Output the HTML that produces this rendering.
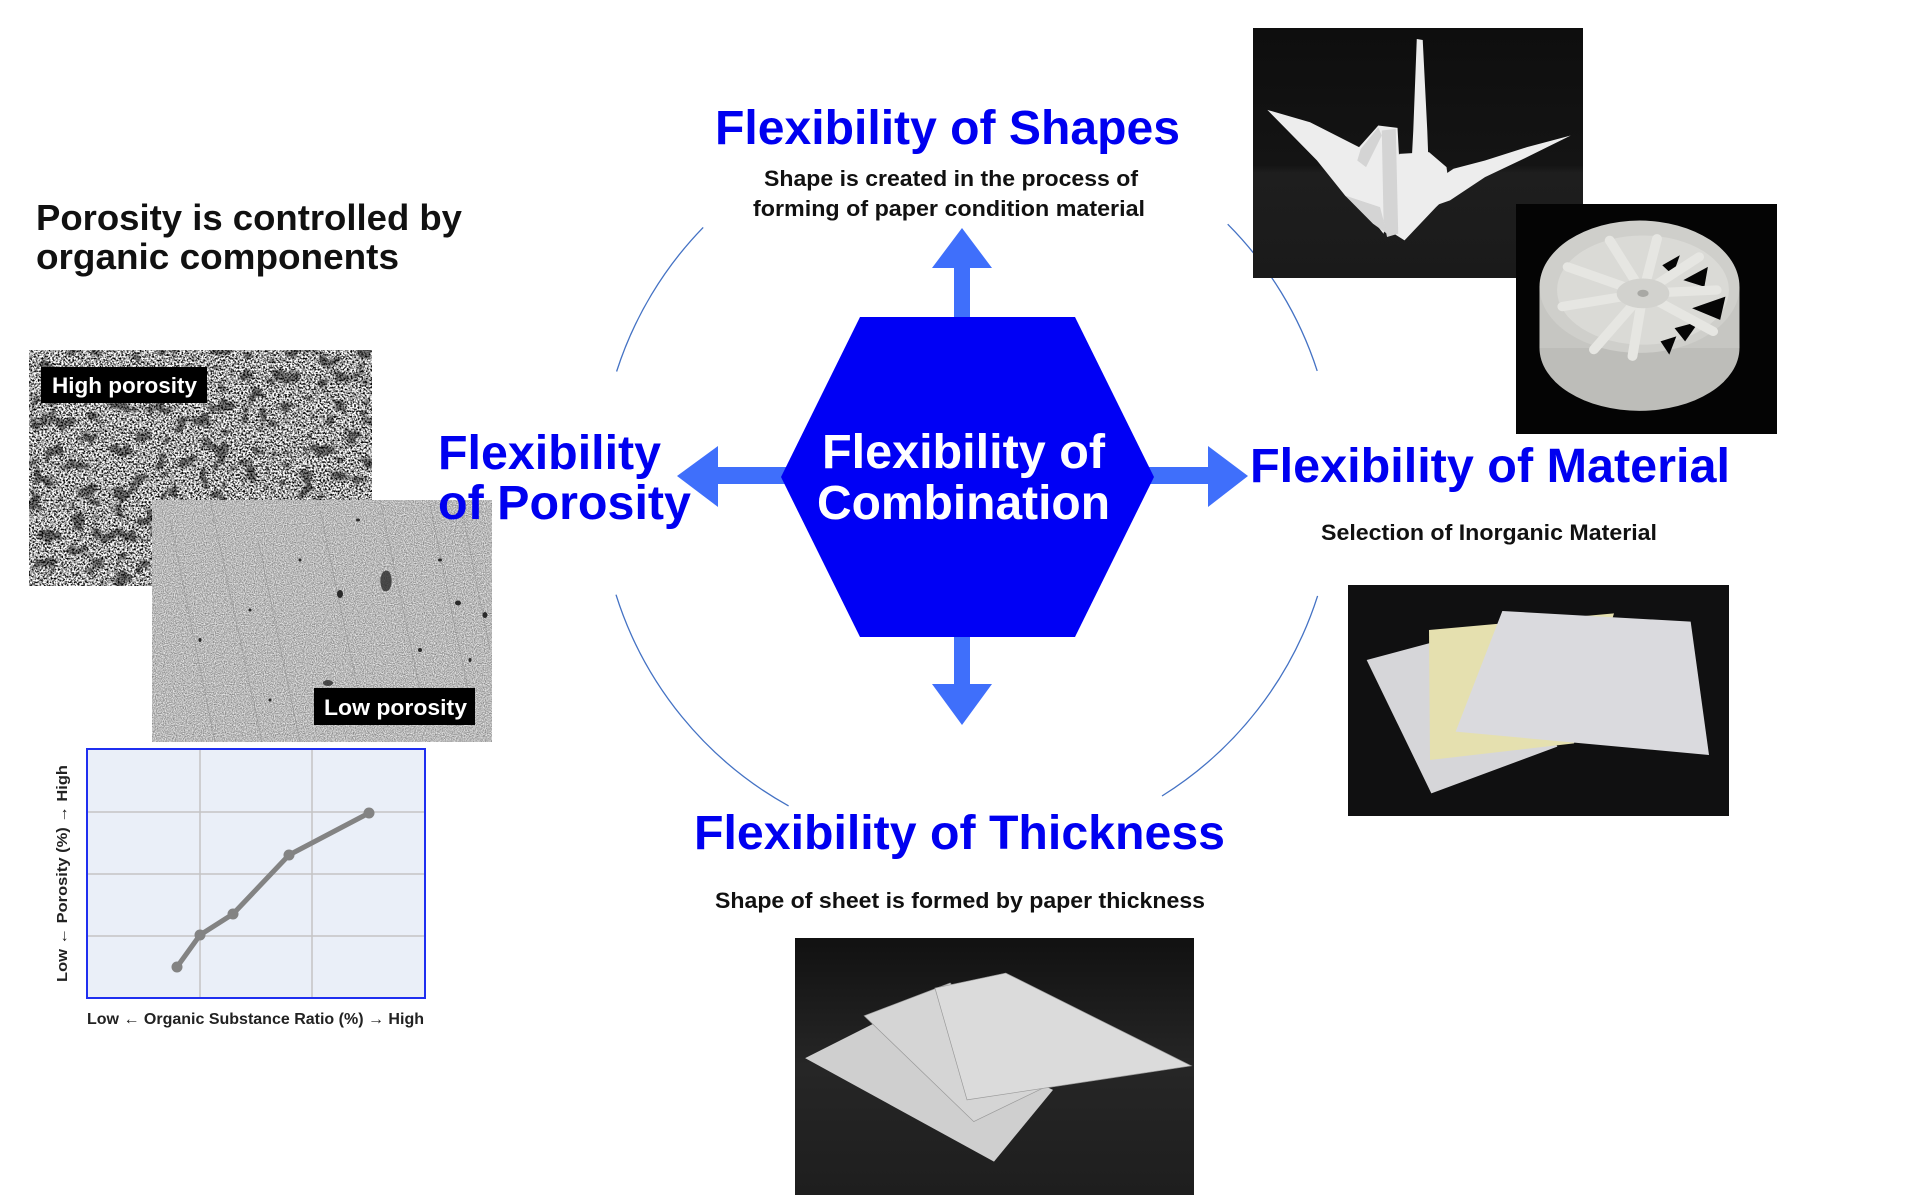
<!DOCTYPE html>
<html><head><meta charset="utf-8"><style>
html,body{margin:0;padding:0;background:#fff;}
body{width:1920px;height:1195px;overflow:hidden;position:relative;}
svg{position:absolute;left:0;top:0;}
text{font-family:"Liberation Sans",Arial,sans-serif;}
</style></head><body>
<svg width="1920" height="1195" viewBox="0 0 1920 1195" xmlns="http://www.w3.org/2000/svg">
<defs>
  <filter id="hp" x="0" y="0" width="100%" height="100%" color-interpolation-filters="sRGB">
    <feTurbulence type="fractalNoise" baseFrequency="0.55" numOctaves="2" seed="7" result="n"/>
    <feColorMatrix in="n" type="matrix" values="1 0 0 0 0  1 0 0 0 0  1 0 0 0 0  0 0 0 0 1"/>
    <feComponentTransfer>
      <feFuncR type="linear" slope="3.2" intercept="-0.95"/>
      <feFuncG type="linear" slope="3.2" intercept="-0.95"/>
      <feFuncB type="linear" slope="3.2" intercept="-0.95"/>
    </feComponentTransfer>
  </filter>
  <filter id="hp2" x="0" y="0" width="100%" height="100%" color-interpolation-filters="sRGB">
    <feTurbulence type="fractalNoise" baseFrequency="0.07" numOctaves="2" seed="11" result="n"/>
    <feColorMatrix in="n" type="matrix" values="0 0 0 0 0  0 0 0 0 0  0 0 0 0 0  -7 0 0 0 3.2"/>
  </filter>
  <filter id="lp" x="0" y="0" width="100%" height="100%" color-interpolation-filters="sRGB">
    <feTurbulence type="fractalNoise" baseFrequency="0.9" numOctaves="2" seed="5" result="n"/>
    <feColorMatrix in="n" type="matrix" values="1 0 0 0 0  1 0 0 0 0  1 0 0 0 0  0 0 0 0 1"/>
    <feComponentTransfer>
      <feFuncR type="linear" slope="0.9" intercept="0.28"/>
      <feFuncG type="linear" slope="0.9" intercept="0.28"/>
      <feFuncB type="linear" slope="0.9" intercept="0.28"/>
    </feComponentTransfer>
  </filter>
  <linearGradient id="craneBg" x1="0" y1="0" x2="0" y2="1">
    <stop offset="0" stop-color="#0e0e0e"/>
    <stop offset="0.55" stop-color="#141414"/>
    <stop offset="0.58" stop-color="#1e1e1e"/>
    <stop offset="1" stop-color="#1a1a1a"/>
  </linearGradient>
  <linearGradient id="thBg" x1="0" y1="0" x2="0" y2="1">
    <stop offset="0" stop-color="#111"/>
    <stop offset="0.5" stop-color="#262626"/>
    <stop offset="1" stop-color="#1e1e1e"/>
  </linearGradient>
</defs>

<!-- circle arcs -->
<g fill="none" stroke="#4472c4" stroke-width="1.3">
  <path d="M703.2,227.4 A368,368 0 0 0 616.6,371.5"/>
  <path d="M616,594.7 A368,368 0 0 0 788.6,805.9"/>
  <path d="M1227.7,224.2 A368,368 0 0 1 1317.2,370.9"/>
  <path d="M1317.6,595.9 A368,368 0 0 1 1162,796"/>
</g>

<!-- Top-left heading -->
<text x="36" y="230" font-size="36" font-weight="bold" fill="#111" textLength="426" lengthAdjust="spacingAndGlyphs">Porosity is controlled by</text>
<text x="36" y="269" font-size="36" font-weight="bold" fill="#111" textLength="363" lengthAdjust="spacingAndGlyphs">organic components</text>

<!-- High porosity image -->
<rect x="29" y="350" width="343" height="236" fill="#999"/>
<rect x="29" y="350" width="343" height="236" filter="url(#hp)"/>
<rect x="29" y="350" width="343" height="236" filter="url(#hp2)" opacity="0.5"/>
<rect x="41" y="367" width="166" height="36" fill="#000"/>
<text x="52" y="393" font-size="22" font-weight="bold" fill="#fff" textLength="145" lengthAdjust="spacingAndGlyphs">High porosity</text>

<!-- Low porosity image -->
<rect x="152" y="500" width="340" height="242" fill="#b4b4b4"/>
<rect x="152" y="500" width="340" height="242" filter="url(#lp)" opacity="0.9"/>
<g stroke="#8c8c8c" stroke-width="0.8" opacity="0.6">
  <line x1="170" y1="520" x2="215" y2="742"/>
  <line x1="210" y1="500" x2="262" y2="742"/>
  <line x1="258" y1="540" x2="300" y2="742"/>
  <line x1="320" y1="510" x2="360" y2="700"/>
  <line x1="380" y1="500" x2="420" y2="690"/>
  <line x1="430" y1="505" x2="470" y2="700"/>
  <line x1="460" y1="500" x2="490" y2="650"/>
</g>
<g fill="#2a2a2a">
  <path d="M383,572 q6,-4 8,4 q2,8 -2,14 q-6,4 -8,-4 q-2,-8 2,-14z" opacity="0.8"/>
  <ellipse cx="340" cy="594" rx="3" ry="4"/>
  <ellipse cx="458" cy="603" rx="3" ry="2.5"/>
  <ellipse cx="485" cy="615" rx="2.5" ry="3"/>
  <ellipse cx="328" cy="683" rx="5" ry="3" opacity="0.8"/>
  <ellipse cx="250" cy="610" rx="1.5" ry="1.5"/>
  <ellipse cx="200" cy="640" rx="1.5" ry="2"/>
  <ellipse cx="420" cy="650" rx="2" ry="2"/>
  <ellipse cx="358" cy="520" rx="2" ry="1.5"/>
  <ellipse cx="300" cy="560" rx="1.5" ry="1.5"/>
  <ellipse cx="270" cy="700" rx="1.5" ry="1.5"/>
  <ellipse cx="440" cy="560" rx="2" ry="1.5"/>
  <ellipse cx="470" cy="660" rx="1.5" ry="2"/>
</g>
<rect x="314" y="688" width="161" height="37" fill="#000"/>
<text x="324" y="715" font-size="22" font-weight="bold" fill="#fff" textLength="143" lengthAdjust="spacingAndGlyphs">Low porosity</text>

<!-- Chart -->
<rect x="87" y="749" width="338" height="249" fill="#eaeff8"/>
<g stroke="#c4c4c4" stroke-width="1.5">
  <line x1="200" y1="749" x2="200" y2="998"/>
  <line x1="312" y1="749" x2="312" y2="998"/>
  <line x1="87" y1="812" x2="425" y2="812"/>
  <line x1="87" y1="874" x2="425" y2="874"/>
  <line x1="87" y1="936" x2="425" y2="936"/>
</g>
<rect x="87" y="749" width="338" height="249" fill="none" stroke="#1f2ff0" stroke-width="2"/>
<polyline points="177,967 200,935 233,914 289,855 369,813" fill="none" stroke="#838383" stroke-width="5" stroke-linejoin="round"/>
<g fill="#838383">
  <circle cx="177" cy="967" r="5.5"/><circle cx="200" cy="935" r="5.5"/><circle cx="233" cy="914" r="5.5"/><circle cx="289" cy="855" r="5.5"/><circle cx="369" cy="813" r="5.5"/>
</g>
<text transform="translate(67,982) rotate(-90)" font-size="15" font-weight="bold" fill="#222" textLength="217" lengthAdjust="spacingAndGlyphs">Low ← Porosity (%) → High</text>
<text x="87" y="1024" font-size="16" font-weight="bold" fill="#222" textLength="337" lengthAdjust="spacingAndGlyphs">Low ← Organic Substance Ratio (%) → High</text>

<!-- Arrows -->
<g fill="#3f6ffb">
  <rect x="954" y="266" width="16" height="54"/>
  <polygon points="932,268 992,268 962,228"/>
  <rect x="954" y="634" width="16" height="52"/>
  <polygon points="932,684 992,684 962,725"/>
  <rect x="716" y="467" width="70" height="17"/>
  <polygon points="718,446 718,507 677,476"/>
  <rect x="1148" y="467" width="62" height="17"/>
  <polygon points="1208,446 1208,507 1248,476"/>
</g>

<!-- Hexagon -->
<polygon points="860,317 1075,317 1154,477 1075,637 860,637 781,477" fill="#0000f5"/>
<text x="822" y="468" font-size="48" font-weight="bold" fill="#fff" textLength="283" lengthAdjust="spacingAndGlyphs">Flexibility of</text>
<text x="817" y="519" font-size="48" font-weight="bold" fill="#fff" textLength="293" lengthAdjust="spacingAndGlyphs">Combination</text>

<!-- Titles -->
<g font-size="48" font-weight="bold" fill="#0000f0">
  <text x="715" y="144" textLength="465" lengthAdjust="spacingAndGlyphs">Flexibility of Shapes</text>
  <text x="438" y="469" textLength="223" lengthAdjust="spacingAndGlyphs">Flexibility</text>
  <text x="438" y="519" textLength="253" lengthAdjust="spacingAndGlyphs">of Porosity</text>
  <text x="1250" y="482" textLength="480" lengthAdjust="spacingAndGlyphs">Flexibility of Material</text>
  <text x="694" y="849" textLength="531" lengthAdjust="spacingAndGlyphs">Flexibility of Thickness</text>
</g>
<g font-size="22" font-weight="bold" fill="#111">
  <text x="764" y="186" textLength="374" lengthAdjust="spacingAndGlyphs">Shape is created in the process of</text>
  <text x="753" y="216" textLength="392" lengthAdjust="spacingAndGlyphs">forming of paper condition material</text>
  <text x="1321" y="540" textLength="336" lengthAdjust="spacingAndGlyphs">Selection of Inorganic Material</text>
  <text x="715" y="908" textLength="490" lengthAdjust="spacingAndGlyphs">Shape of sheet is formed by paper thickness</text>
</g>

<!-- Crane image -->
<svg x="1253" y="28" width="330" height="250" viewBox="37 22 943 751" preserveAspectRatio="none">
  <rect x="37" y="22" width="943" height="751" fill="url(#craneBg)"/>
  <g fill="#ededed">
    <polygon points="78,268 200,305 340,380 395,315 450,322 455,420 430,560 410,640 380,600 300,525 220,420"/>
    <polygon points="505,55 522,58 535,330 540,470 488,470 495,330"/>
    <polygon points="455,400 540,395 590,440 600,520 560,560 470,660 440,640 440,470"/>
    <polygon points="945,345 820,380 700,420 610,445 560,480 545,560 600,540 700,470 820,410"/>
  </g>
  <g fill="#d4d4d4">
    <polygon points="405,330 445,325 452,640 420,650 410,600"/>
    <polygon points="300,525 400,560 420,640 380,610"/>
    <polygon points="345,385 395,320 405,345 360,440 335,420"/>
  </g>
</svg>

<!-- Wheel image -->
<svg x="1516" y="204" width="261" height="230" viewBox="788 550 744 695" preserveAspectRatio="none">
  <rect x="788" y="550" width="744" height="695" fill="#040404"/>
  <ellipse cx="1140" cy="985" rx="285" ry="190" fill="#bdbdb9"/>
  <rect x="855" y="800" width="570" height="185" fill="#c6c6c2"/>
  <ellipse cx="1140" cy="800" rx="285" ry="200" fill="#cfcfcb"/>
  <ellipse cx="1150" cy="810" rx="245" ry="165" fill="#dadad6"/>
  <g fill="#050505">
    <polygon points="1205,735 1255,705 1235,765"/>
    <polygon points="1265,780 1335,740 1325,800"/>
    <polygon points="1290,865 1385,830 1370,900"/>
    <polygon points="1240,925 1310,905 1270,965"/>
    <polygon points="1200,965 1245,950 1225,1005"/>
  </g>
  <g stroke="#e6e6e2" stroke-width="28" stroke-linecap="round">
    <line x1="1150" y1="820" x2="1190" y2="655"/>
    <line x1="1150" y1="820" x2="1055" y2="660"/>
    <line x1="1150" y1="820" x2="935" y2="740"/>
    <line x1="1150" y1="820" x2="920" y2="860"/>
    <line x1="1150" y1="820" x2="1010" y2="990"/>
    <line x1="1150" y1="820" x2="1120" y2="1010"/>
    <line x1="1150" y1="820" x2="1310" y2="710"/>
    <line x1="1150" y1="820" x2="1360" y2="810"/>
    <line x1="1150" y1="820" x2="1350" y2="935"/>
  </g>
  <ellipse cx="1150" cy="820" rx="75" ry="45" fill="#d2d2ce"/>
  <ellipse cx="1150" cy="820" rx="16" ry="11" fill="#a8a8a4"/>
</svg>

<!-- Plates image -->
<svg x="1348" y="585" width="381" height="231" viewBox="22 15 1143 693" preserveAspectRatio="none">
  <rect x="22" y="15" width="1143" height="693" fill="#101011"/>
  <polygon points="78,240 470,135 650,500 272,640" fill="#d6d6d9"/>
  <polygon points="265,150 820,100 700,490 268,540" fill="#e5e0af"/>
  <polygon points="485,93 1050,125 1105,525 345,455" fill="#dadade"/>
</svg>

<!-- Thickness image -->
<svg x="795" y="938" width="399" height="257" viewBox="15 25 1183 770" preserveAspectRatio="none">
  <rect x="15" y="25" width="1183" height="770" fill="url(#thBg)"/>
  <polygon points="45,385 300,255 780,480 605,695" fill="#cfcfcf"/>
  <polygon points="220,258 475,160 760,470 545,575" fill="#d5d5d5" stroke="#999" stroke-width="2"/>
  <polygon points="430,175 640,130 1190,408 525,510" fill="#dbdbdb" stroke="#999" stroke-width="2"/>
</svg>
</svg>
</body></html>
